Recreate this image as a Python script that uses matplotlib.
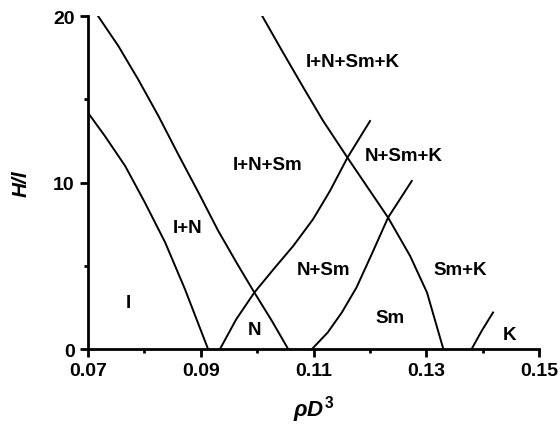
import matplotlib.pyplot as plt

plt.rcParams['font.family'] = ['Liberation Sans', 'DejaVu Sans']
plt.rcParams['font.weight'] = 'bold'
plt.rcParams['mathtext.fontset'] = 'custom'
plt.rcParams['mathtext.it'] = 'Liberation Sans:italic:bold'
plt.rcParams['mathtext.rm'] = 'Liberation Sans:bold'

# phase boundaries (rho D^3, H/l)
a_x = [0.0700, 0.0730, 0.0766, 0.0801, 0.0837, 0.0872, 0.0913]
a_y = [14.2, 12.8, 11.0, 8.8, 6.4, 3.6, 0.0]

b_x = [0.0718, 0.0754, 0.0789, 0.0825, 0.0860, 0.0896, 0.0931, 0.0965, 0.0995, 0.1026, 0.1055]
b_y = [20.0, 18.2, 16.2, 14.0, 11.7, 9.4, 7.1, 5.1, 3.4, 1.7, 0.0]

c_x = [0.0934, 0.0963, 0.0995, 0.1029, 0.1064, 0.1099, 0.1129, 0.1160, 0.1200]
c_y = [0.0, 1.8, 3.4, 4.8, 6.2, 7.8, 9.5, 11.5, 13.7]

d_x = [0.1009, 0.1046, 0.1082, 0.1117, 0.1160, 0.1194, 0.1232, 0.1271, 0.1301, 0.1330]
d_y = [20.0, 17.8, 15.7, 13.7, 11.5, 9.8, 7.9, 5.6, 3.4, 0.0]

e_x = [0.1097, 0.1125, 0.1150, 0.1176, 0.1203, 0.1232, 0.1274]
e_y = [0.0, 1.0, 2.2, 3.7, 5.7, 7.9, 10.1]

f_x = [0.1380, 0.1398, 0.1418]
f_y = [0.0, 1.1, 2.2]

labels = ['I+N+Sm+K', 'N+Sm+K', 'I+N+Sm', 'I+N', 'I', 'N', 'N+Sm', 'Sm', 'Sm+K', 'K']
lab_x = [0.1170, 0.1259, 0.1018, 0.0876, 0.0771, 0.0996, 0.1117, 0.1235, 0.1360, 0.1448]
lab_y = [17.3, 11.6, 11.1, 7.3, 2.8, 1.2, 4.8, 1.9, 4.8, 0.9]

fig = plt.figure(figsize=(5.6, 4.27), dpi=100)
ax = fig.add_axes([0.157, 0.180, 0.806, 0.780])

for xs, ys in [(a_x, a_y), (b_x, b_y), (c_x, c_y), (d_x, d_y), (e_x, e_y), (f_x, f_y)]:
    ax.plot(xs, ys, color='black', lw=1.4)

for t, x, y in zip(labels, lab_x, lab_y):
    ax.text(x, y, t, ha='center', va='center', fontsize=13.5, fontweight='bold')

ax.set_xlim(0.07, 0.15)
ax.set_ylim(0, 20)
ax.set_xticks([0.07, 0.09, 0.11, 0.13, 0.15])
ax.set_xticks([0.08, 0.10, 0.12, 0.14], minor=True)
ax.set_yticks([0, 10, 20])
ax.set_yticks([5, 15], minor=True)
ax.tick_params(which='major', length=6, width=2, labelsize=14)
ax.tick_params(which='minor', length=3, width=2)
for lab in ax.get_xticklabels() + ax.get_yticklabels():
    lab.set_fontweight('bold')

ax.spines['top'].set_visible(False)
ax.spines['right'].set_visible(False)
ax.spines['left'].set_linewidth(2)
ax.spines['bottom'].set_linewidth(2)

ax.set_xlabel(r'$\rho D^3$', fontsize=16, labelpad=10)
ax.set_ylabel('H/l', fontsize=15, fontstyle='italic', fontweight='bold', labelpad=16)

fig.savefig('out.png', dpi=100)
